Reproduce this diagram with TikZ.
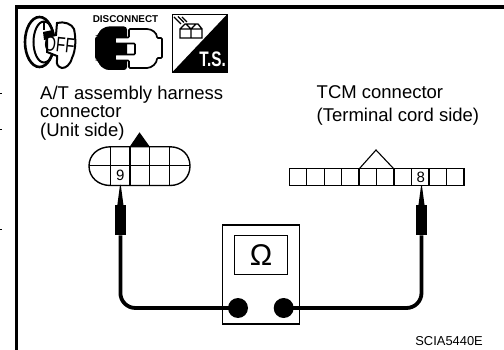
\documentclass[tikz,border=0pt]{standalone}
\usepackage{fontspec}
\usetikzlibrary{calc}
\setmainfont{Liberation Sans}
\tikzset{
  lbl/.style={inner sep=0pt,align=left,anchor=north west},
  pin/.style={inner sep=0pt,font=\fontsize{15}{15}\selectfont},
  ln/.style={line width=1.4pt,black},
  wire/.style={line width=3.8pt,black,rounded corners=15pt},
  probe/.style={fill=black,draw=none,inner sep=0pt,minimum width=10.7pt,minimum height=30pt},
  term/.style={circle,fill=black,inner sep=0pt,minimum size=20pt},
  box/.style={draw=black,line width=1.1pt,inner sep=0pt},
}
\begin{document}
\begin{tikzpicture}[x=1pt,y=-1pt]
\useasboundingbox (0,0) rectangle (504,350);
% frame
\fill (15,5.3) rectangle (504,9);
\fill (15,5.3) rectangle (18,350);
\draw[line width=1pt] (0,93.5) -- (2,93.5) (0,129.5) -- (2,129.5) (0,229.5) -- (2,229.5);
% key icon
\draw[line width=2.6pt,fill=white] (39.5,42) ellipse (14.5 and 25);
\draw[line width=2pt] (44,42) ellipse (10.5 and 20.5);
\draw[line width=1.4pt] (44,22) -- (44,30);
\fill (43,32) -- (53,30) -- (55,38) -- (44,40) -- cycle;
\draw[line width=2pt,fill=white] (57,23) .. controls (64,21) and (72,24) .. (74,29)
   .. controls (76,38) and (76,50) .. (72,58)
   .. controls (70,65) and (66,68) .. (62,68)
   .. controls (58,67) and (56,64) .. (57,60)
   -- (57,56) -- (47,52) -- (47,37) -- (56,35) -- cycle;
\node[inner sep=0pt,rotate=-6,xscale=.72] (offtxt) at (59.5,44.5) {\fontsize{21}{21}\selectfont OFF};
% disconnect icon
\node[inner sep=0pt,anchor=base] (disc) at (125.5,22.7) {\fontsize{9.9}{10}\selectfont\bfseries DISCONNECT};
\fill[rounded corners=3pt] (127,26.5) -- (106,26.5) -- (99,31) -- (98,36) -- (95,36) -- (95,60) -- (98,60)
  -- (99,65) -- (106,70) -- (127,70) -- cycle;
\draw[line width=1.7pt,fill=white,rounded corners=1pt] (115,37.5) -- (129,37.5) -- (129,29) -- (146,29)
  .. controls (152,29) and (157,33) .. (157,38) -- (162,38) -- (162,58) -- (157,58)
  .. controls (157,63) and (152,68) .. (146,68) -- (129,68) -- (129,60.5) -- (115,60.5) -- (115,54.5)
  -- (135,54.5) -- (135,43.5) -- (115,43.5) -- cycle;
% T.S. icon
\draw[line width=1.5pt] (172.5,14.5) rectangle (227,72);
\fill (227,14.5) -- (227,72) -- (172.5,72) -- cycle;
\node[inner sep=0pt,text=white,xscale=.73] (ts) at (212.7,59) {\fontsize{21}{21}\selectfont\bfseries T.S.};
\draw[line width=1.4pt] (180,29) -- (180,38) -- (191,38) -- (191,29) -- cycle
  (191,29) -- (202,29) -- (202,38) -- (191,38)
  (180,29) -- (185,24) -- (198,24) -- (202,29) (186,24) -- (191,29) -- (196,24);
\draw[line width=1.2pt] (174,17) -- (181,24) (178,16.5) -- (184,22.5) (182,17) -- (187,22);
% texts
\node[lbl,font=\fontsize{18.5}{18.6}\selectfont] (lblA) at (40,85.5) {A/T assembly harness\\connector\\(Unit side)};
\node[lbl,font=\fontsize{18.5}{22.5}\selectfont] (lblB) at (316.5,85.8) {TCM connector\\(Terminal cord side)};
\node[inner sep=0pt,anchor=base east] (code) at (483,345.8) {\fontsize{12.9}{13}\selectfont SCIA5440E};
% A/T connector
\draw[ln] (110.5,146.8) -- (170,146.8) .. controls (182,146.8) and (190,155) .. (190,166)
   .. controls (190,177) and (182,185.5) .. (170,185.5) -- (110.5,185.5)
   .. controls (98,185.5) and (89,177) .. (89,166) .. controls (89,155) and (98,146.8) .. (110.5,146.8) -- cycle;
\draw[ln] (89,165.7) -- (190,165.7);
\foreach \x in {110.7,130,149.5,169.3} \draw[ln] (\x,146.8) -- (\x,185.5);
\fill (139.5,132.3) -- (150,147) -- (129.5,147) -- cycle;
\node[pin,fill=white,inner sep=0.5pt] (pin9) at (120.4,175.5) {9};
% TCM connector
\draw[ln] (289.3,168.3) rectangle (464,185.7);
\foreach \i in {1,...,9} \draw[ln] ({289.3+17.47*\i},168.3) -- ({289.3+17.47*\i},185.7);
\draw[line width=1.1pt] (359.7,168.3) -- (376,150) -- (393.3,168.3);
\node[pin,fill=white,inner sep=0.5pt] (pin8) at (420.7,177) {8};
% probes
\node[probe,anchor=north] (pL) at (120.4,205) {};
\node[probe,anchor=north] (pR) at (421.5,205) {};
\fill ($(pL.north west)+(2.5,0)$) -- (120,185) -- (120.8,185) -- ($(pL.north east)+(-2.5,0)$) -- cycle;
\fill ($(pR.north west)+(2.5,0)$) -- (421.1,185.5) -- (421.9,185.5) -- ($(pR.north east)+(-2.5,0)$) -- cycle;
% meter
\node[box,minimum width=76.5pt,minimum height=99pt] (meter) at (261,274.5) {};
\node[box,minimum width=53.5pt,minimum height=38.5pt] (screen) at (261,255.2) {\fontsize{30}{30}\selectfont Ω};
\node[term] (tL) at (238,308) {};
\node[term] (tR) at (283.7,308) {};
\draw[wire] (pL.south) |- (tL.center);
\draw[wire] (pR.south) |- (tR.center);
\end{tikzpicture}
\end{document}
